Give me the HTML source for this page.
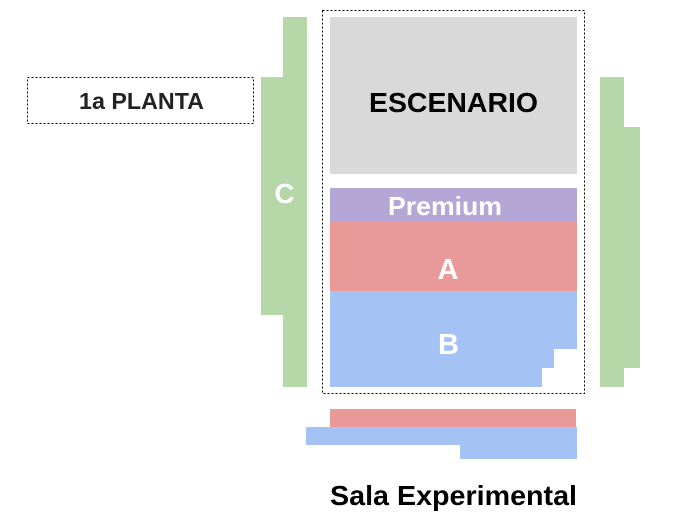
<!DOCTYPE html>
<html><head><meta charset="utf-8"><style>
html,body{margin:0;padding:0;background:#fff;}
svg{display:block;}
text{font-family:"Liberation Sans",Arial,sans-serif;font-weight:bold;}
</style></head><body>
<svg width="685" height="526" viewBox="0 0 685 526" xmlns="http://www.w3.org/2000/svg">
<!-- left green C -->
<rect x="283" y="17" width="24" height="370" fill="#b6d7a8"/>
<rect x="261" y="77" width="46" height="238" fill="#b6d7a8"/>
<!-- right green -->
<rect x="600" y="77" width="24" height="310" fill="#b6d7a8"/>
<rect x="600" y="127" width="40" height="241" fill="#b6d7a8"/>
<!-- dashed boxes -->
<rect x="322.5" y="10.5" width="262" height="383" fill="none" stroke="#000" stroke-width="1" stroke-dasharray="2,2"/>
<rect x="27.5" y="77.5" width="226" height="46" fill="none" stroke="#000" stroke-width="1" stroke-dasharray="2,2"/>
<!-- escenario -->
<rect x="330" y="17" width="247" height="157" fill="#d9d9d9"/>
<!-- premium -->
<rect x="330" y="188" width="247" height="34" fill="#b4a7d6"/>
<!-- A -->
<rect x="330" y="222" width="247" height="69" fill="#ea9999"/>
<!-- B -->
<polygon points="330,291 577,291 577,349 554,349 554,368 542,368 542,387 330,387" fill="#a4c2f4"/>
<!-- lower -->
<rect x="330" y="409" width="246" height="18" fill="#ea9999"/>
<polygon points="306,427 577,427 577,459 460,459 460,445 306,445" fill="#a4c2f4"/>
<!-- texts -->
<text x="79" y="109" font-size="23" fill="#222" textLength="125" lengthAdjust="spacingAndGlyphs">1a PLANTA</text>
<text x="369" y="112" font-size="28" fill="#000" textLength="169" lengthAdjust="spacingAndGlyphs">ESCENARIO</text>
<text x="284.5" y="203" font-size="28" fill="#fff" text-anchor="middle">C</text>
<text x="388" y="215" font-size="26" fill="#fff" textLength="114" lengthAdjust="spacingAndGlyphs">Premium</text>
<text x="448" y="279" font-size="29" fill="#fff" text-anchor="middle">A</text>
<text x="448.5" y="354" font-size="29" fill="#fff" text-anchor="middle">B</text>
<text x="330" y="505" font-size="28" fill="#000" textLength="247" lengthAdjust="spacingAndGlyphs">Sala Experimental</text>
</svg>
</body></html>
